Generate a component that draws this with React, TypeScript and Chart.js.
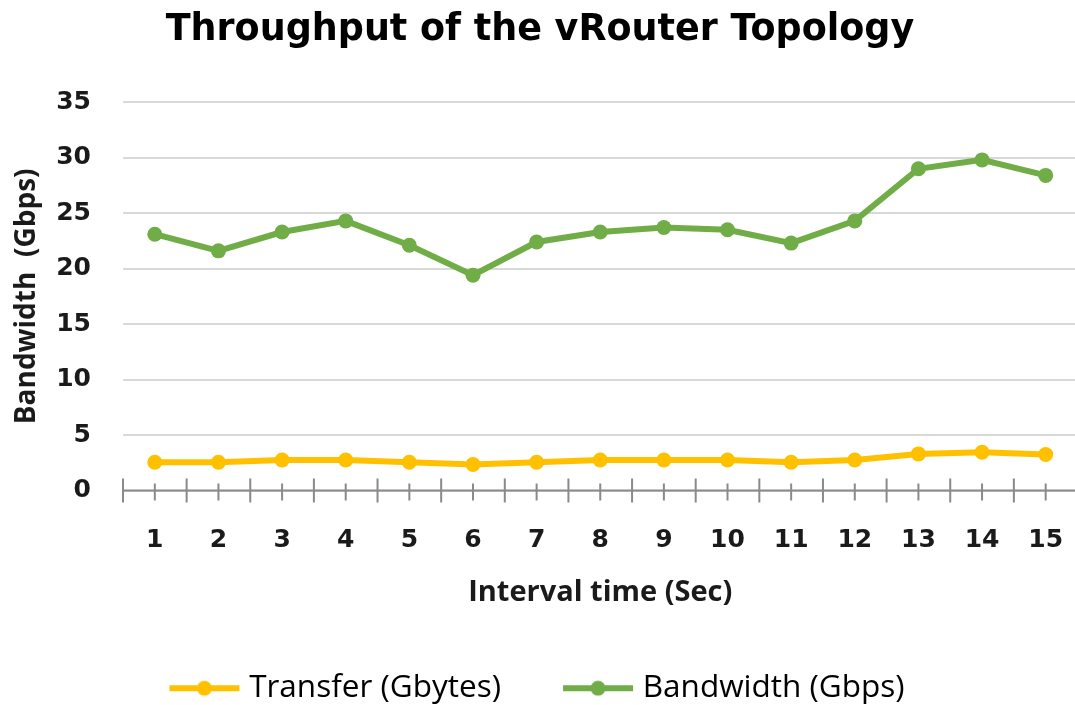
import React, { useEffect, useRef } from "react";
import { Chart, registerables } from "chart.js";

Chart.register(...registerables);

const categories = ["1", "2", "3", "4", "5", "6", "7", "8", "9", "10", "11", "12", "13", "14", "15"];
const transferValues = [2.55, 2.55, 2.75, 2.75, 2.55, 2.35, 2.55, 2.75, 2.75, 2.75, 2.55, 2.75, 3.3, 3.45, 3.25];
const bandwidthValues = [23.1, 21.6, 23.3, 24.3, 22.1, 19.4, 22.4, 23.3, 23.7, 23.5, 22.3, 24.3, 29.0, 29.8, 28.4];
const seriesNames = ["Transfer (Gbytes)", "Bandwidth (Gbps)"];
const seriesColors = ["#FFC000", "#70AD47"];
const yTicks = [0, 5, 10, 15, 20, 25, 30, 35];

const TITLE_FONT = "'DejaVu Sans', sans-serif";
const TICK_FONT = "'DejaVu Sans', sans-serif";
const LABEL_FONT = "'Open Sans', sans-serif";

function makeLegendMarker(color: string): HTMLCanvasElement {
  const c = document.createElement("canvas");
  c.width = 80;
  c.height = 18;
  const ctx = c.getContext("2d")!;
  ctx.strokeStyle = color;
  ctx.lineWidth = 6;
  ctx.beginPath();
  ctx.moveTo(5, 9);
  ctx.lineTo(75, 9);
  ctx.stroke();
  ctx.fillStyle = color;
  ctx.beginPath();
  ctx.arc(40, 9, 7.5, 0, Math.PI * 2);
  ctx.fill();
  return c;
}

const axisTicksPlugin = {
  id: "axisTicks",
  afterDatasetsDraw(chart: any) {
    const { ctx, chartArea, scales } = chart;
    const x = scales.x;
    const y = scales.y;
    const y0 = y.getPixelForValue(0);
    ctx.save();
    ctx.strokeStyle = "#8a8a8a";
    ctx.lineWidth = 2;
    ctx.beginPath();
    ctx.moveTo(chartArea.left, y0);
    ctx.lineTo(chartArea.right, y0);
    const n = categories.length;
    for (let i = 0; i <= n; i++) {
      const px = x.getPixelForValue(i - 0.5);
      ctx.moveTo(px, y0 - 12);
      ctx.lineTo(px, y0 + 12);
    }
    for (let i = 0; i < n; i++) {
      const px = x.getPixelForValue(i);
      ctx.moveTo(px, y0 - 7);
      ctx.lineTo(px, y0 + 10);
    }
    ctx.stroke();
    ctx.restore();
  },
};

export default function App() {
  const ref = useRef<HTMLCanvasElement | null>(null);

  useEffect(() => {
    document.body.style.margin = "0";
    const markers = seriesColors.map((c) => makeLegendMarker(c));
    const chart = new Chart(ref.current!, {
      type: "line",
      data: {
        labels: categories,
        datasets: seriesNames.map((name, i) => ({
          label: name,
          data: i === 0 ? transferValues : bandwidthValues,
          borderColor: seriesColors[i],
          backgroundColor: seriesColors[i],
          borderWidth: 6,
          pointRadius: 7.5,
          pointHoverRadius: 7.5,
          pointBorderWidth: 0,
          pointStyle: "circle",
          tension: 0,
        })),
      },
      options: {
        animation: false,
        responsive: false,
        layout: { padding: { left: 0, right: 5, top: 0, bottom: 0 } },
        plugins: {
          title: {
            display: true,
            text: "Throughput of the vRouter Topology",
            color: "#000",
            font: { family: TITLE_FONT, size: 36.5, weight: "bold" },
            padding: { top: 8.2, bottom: 50.2 },
          },
          legend: {
            position: "bottom",
            labels: {
              color: "#000",
              font: { family: LABEL_FONT, size: 31.5, weight: "normal" },
              usePointStyle: true,
              pointStyleWidth: 58,
              padding: 68,
              generateLabels: (ch: any) =>
                ch.data.datasets.map((d: any, i: number) => ({
                  text: d.label,
                  fillStyle: d.borderColor,
                  strokeStyle: d.borderColor,
                  pointStyle: markers[i],
                  hidden: false,
                  datasetIndex: i,
                  lineWidth: 0,
                  fontColor: "#000",
                })),
            },
          },
          tooltip: { enabled: false },
        },
        scales: {
          x: {
            type: "category",
            offset: true,
            grid: { display: false, drawTicks: false },
            border: { display: false },
            afterFit: (s: any) => {
              s.height = 114;
              s.paddingLeft = 0;
              s.paddingRight = 0;
            },
            ticks: {
              color: "#1a1a1a",
              font: { family: TICK_FONT, size: 25, weight: "bold" },
              padding: 35,
              maxRotation: 0,
              autoSkip: false,
            },
            title: {
              display: true,
              text: "Interval time (Sec)",
              color: "#1a1a1a",
              font: { family: LABEL_FONT, size: 29, weight: "bold" },
              padding: { top: 0, bottom: -5.4 },
            },
          },
          y: {
            min: 0,
            max: 35,
            afterFit: (s: any) => {
              s.width = 123;
            },
            afterBuildTicks: (s: any) => {
              s.ticks = yTicks.map((v) => ({ value: v }));
            },
            ticks: {
              color: "#1a1a1a",
              font: { family: TICK_FONT, size: 25, weight: "bold" },
              padding: 32,
            },
            grid: { color: "#d9d9d9", lineWidth: 2, drawTicks: false },
            border: { display: false },
            title: {
              display: true,
              text: "Bandwidth  (Gbps)",
              color: "#1a1a1a",
              font: { family: LABEL_FONT, size: 28, weight: "bold" },
              padding: { top: 10.6, bottom: 0 },
            },
          },
        },
      },
      plugins: [axisTicksPlugin],
    } as any);
    return () => chart.destroy();
  }, []);

  return (
    <div style={{ position: "absolute", left: 0, top: 0, width: 1075, height: 705, overflow: "hidden", background: "#fff" }}>
      <canvas ref={ref} width={1085} height={714} style={{ display: "block" }} />
    </div>
  );
}
